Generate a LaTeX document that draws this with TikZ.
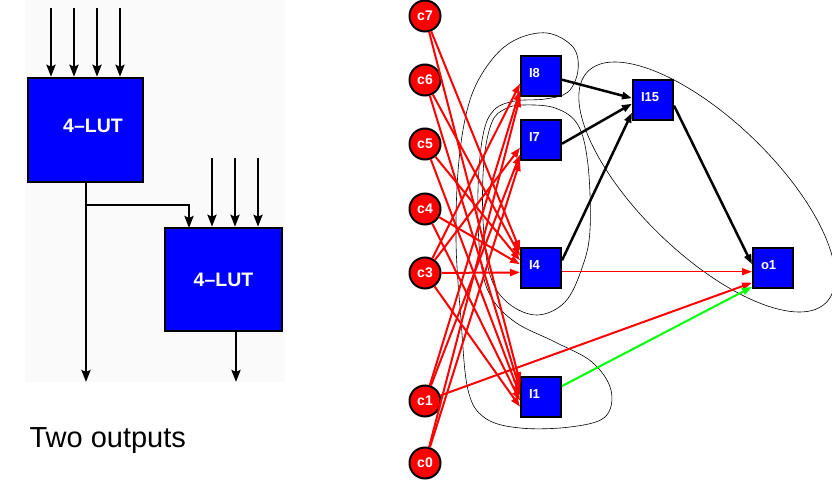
\documentclass[tikz,border=0pt]{standalone}
\usepackage{fontspec}
\setmainfont{Liberation Sans}
\usetikzlibrary{arrows.meta}

\tikzset{
  lutbox/.style={draw=black, line width=2.5pt, fill=blue, minimum width=115pt, minimum height=104pt,
    inner sep=0pt, text=white, font=\bfseries\fontsize{19.5}{20}\selectfont},
  wire/.style={line width=2.5pt, -{Stealth[length=12pt,width=9pt,inset=2pt]}},
  cin/.style={circle, draw=black, line width=2pt, fill=red, minimum size=31pt, inner sep=0pt,
    text=white, font=\bfseries\fontsize{14}{15}\selectfont},
  lutnode/.style={draw=black, line width=2pt, fill=blue, minimum size=40pt, inner sep=0pt,
    text width=24pt, align=left, text height=9pt, text depth=6pt,
    text=white, font=\bfseries\fontsize{13}{14}\selectfont},
  redarc/.style={red, line width=2pt, -{Triangle[length=10pt,width=7pt]}},
  blackarc/.style={black, line width=2.5pt, -{Triangle[length=10pt,width=7pt]}},
  greenarc/.style={green, line width=2pt, -{Triangle[length=10pt,width=7pt]}},
  cone/.style={black, line width=0.6pt}
}

\begin{document}
\begin{tikzpicture}[x=1pt, y=-1pt]
  \useasboundingbox (0,0) rectangle (832,481);

  % two LUTs sharing an output
  \fill[black!2] (25,0) rectangle (285,382);
  \node[lutbox] (lut1) at (85.5,130) {\raisebox{8pt}{\hspace*{15pt}4--LUT}};
  \node[lutbox, minimum width=117pt, minimum height=103pt] (lut2) at (223.5,279.5) {\raisebox{-3.5pt}{4--LUT}};

  \foreach \x [count=\i] in {51,74,97,120} {
    \coordinate (a\i) at (\x,8);
    \draw[wire] (a\i) -- (a\i |- lut1.north);
  }
  \foreach \x [count=\i] in {212,235,258} {
    \coordinate (b\i) at (\x,158);
    \draw[wire] (b\i) -- (b\i |- lut2.north);
  }
  \coordinate (split) at (86,205);
  \coordinate (out1) at (86,382);
  \coordinate (out2) at (236,382);
  \draw[wire] (lut1.south -| split) -- (out1);
  \draw[wire] (split) -| (189,228);
  \draw[wire] (lut2.south -| out2) -- (out2);

  \node[anchor=base west, font=\fontsize{29}{30}\selectfont] (caption) at (26,447) {Two outputs};

  % mapped network
  \node[cin] (c7) at (425,16) {c7};
  \node[cin] (c6) at (425,80) {c6};
  \node[cin] (c5) at (425,144) {c5};
  \node[cin] (c4) at (425,209) {c4};
  \node[cin] (c3) at (425,273) {c3};
  \node[cin] (c1) at (425,401) {c1};
  \node[cin] (c0) at (425,463) {c0};

  \node[lutnode] (I8) at (541,76) {I8};
  \node[lutnode] (I7) at (541,140) {I7};
  \node[lutnode] (I4) at (541,268) {I4};
  \node[lutnode] (I1) at (541,397) {I1};
  \node[lutnode] (I15) at (653,100) {I15};
  \node[lutnode] (o1) at (773,268) {o1};

  % cones
  \draw[cone] plot[smooth cycle, tension=0.6] coordinates {
    (547,33) (573,47) (578,70) (568,92) (545,99) (515,101) (494,110) (483,135)
    (478,190) (480,255) (490,295) (515,322) (555,342) (592,362) (611,390)
    (605,417) (570,427) (520,428) (485,418) (468,390) (461,320) (456,240)
    (459,160) (470,100) (490,62) (515,40)};
  \draw[cone] plot[smooth cycle, tension=0.6] coordinates {
    (523,105) (555,108) (578,125) (588,165) (590,230) (582,268) (565,302)
    (537,315) (508,303) (490,275) (483,220) (484,160) (492,122) (505,109)};
  \draw[cone, rotate around={-44:(707,187)}] (707,187) ellipse [x radius=166pt, y radius=67pt];

  % primary inputs
  \draw[redarc] (c7) -- (I4.140);
  \draw[redarc] (c6) -- (I4.150);
  \draw[redarc] (c5) -- (I4.160);
  \draw[redarc] (c4) -- (I4.170);
  \draw[redarc] (c3) -- (I4.192);
  \draw[redarc] (c7) -- (I1.145);
  \draw[redarc] (c6) -- (I1.160);
  \draw[redarc] (c5) -- (I1.175);
  \draw[redarc] (c4) -- (I1.190);
  \draw[redarc] (c3) -- (I1.205);
  \draw[redarc] (c3) -- (I8.200);
  \draw[redarc] (c1) -- (I8.215);
  \draw[redarc] (c0) -- (I8.225);
  \draw[redarc] (c3) -- (I7.200);
  \draw[redarc] (c1) -- (I7.215);
  \draw[redarc] (c0) -- (I7.225);
  \draw[redarc] (c1) -- (o1.215);

  \draw[blackarc] (I8.-10) -- (I15.175);
  \draw[blackarc] (I7.-10) -- (I15.190);
  \draw[blackarc] (I4.20) -- (I15.211);
  \draw[blackarc] (I15.-15) -- (o1.170);
  \draw[redarc, line width=1.5pt] (I4.-10) -- (o1.190);
  \draw[greenarc] (I1) -- (o1.222);
\end{tikzpicture}
\end{document}
